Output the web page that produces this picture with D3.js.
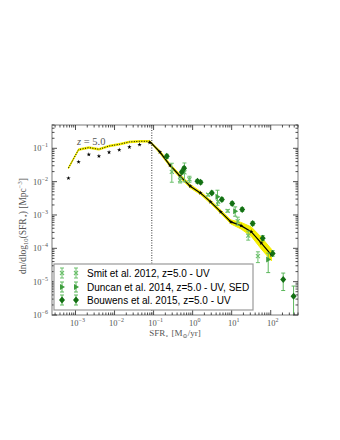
<!DOCTYPE html>
<html>
<head>
<meta charset="utf-8">
<script src="https://cdn.jsdelivr.net/npm/d3@7"></script>
<style>
  body { margin: 0; background: #fff; }
  svg { display: block; }
</style>
</head>
<body>
<div id="chart"></div>
<script>
// model curve (yellow band + black line) and stars
const modelSfr = [6.6e-4, 1.2e-3, 2.19e-3, 3.98e-3, 7.24e-3, 0.0132, 0.024, 0.0437, 0.0794,
  0.145, 0.263, 0.479, 0.871, 1.58, 2.88, 5.25, 9.55, 17.4, 31.6, 57.5, 105];
const modelPhi = [0.0257, 0.0914, 0.105, 0.0933, 0.117, 0.132, 0.155, 0.162, 0.162,
  0.0774, 0.031, 0.0145, 0.00728, 0.00459, 0.00247, 0.00124, 6.2e-4, 4.79e-4, 3.16e-4, 1.43e-4, 6.25e-5];
const bandLo = [0.0243, 0.0865, 0.0994, 0.0883, 0.1108, 0.125, 0.1468, 0.1534, 0.1534,
  0.0695, 0.0278, 0.0129, 0.0065, 0.0041, 0.0022, 0.0011, 5.4e-4, 3.8e-4, 2.3e-4, 9.5e-5, 4.2e-5];
const bandHi = [0.0271, 0.0966, 0.111, 0.0986, 0.1236, 0.1395, 0.1638, 0.1712, 0.1712,
  0.0862, 0.0346, 0.0163, 0.0082, 0.0051, 0.00277, 0.0014, 7.1e-4, 6.0e-4, 4.4e-4, 2.15e-4, 9.3e-5];
const starPhi = [0.01265, 0.0389, 0.0652, 0.0583, 0.0759, 0.0895, 0.109, 0.129, 0.148,
  0.0774, 0.031, 0.0145, 0.00728, 0.00459, 0.00247, 0.00124, 6.2e-4, 4.79e-4, 3.16e-4, 1.43e-4, 6.25e-5];
const sfrCut = 0.09;

// Smit et al. 2012
const smitSfr = [0.293, 0.478, 0.617, 0.828, 2.49, 4.51, 7.89, 14.3, 26.5, 47.0];
const smitPhi = [0.0195, 0.011, 0.0191, 0.0118, 0.00406, 0.0025, 0.00133, 6.52e-4, 2.4e-4, 5.83e-5];
const smitLo = [0.0096, 0.00914, 0.00982, 0.0096, 0.0037, 0.0023, 0.00122, 4.95e-4, 1.76e-4, 3.73e-5];
const smitHi = [0.0356, 0.0138, 0.0363, 0.0145, 0.0044, 0.0027, 0.00145, 8.59e-4, 3.27e-4, 7.85e-5];

// Duncan et al. 2014
const duncanSfr = [4.33, 12.3, 86.3];
const duncanPhi = [0.00353, 0.0013, 4.59e-5];
const duncanLo = [0.00196, 9.2e-4, 1.87e-5];
const duncanHi = [0.00553, 0.00175, 7.18e-5];

// Bouwens et al. 2015
const bouwensSfr = [0.218, 0.528, 0.605, 1.33, 1.6, 3.1, 5.61, 10.3, 18.6, 34.5, 62.4, 112, 209, 385];
const bouwensPhi = [0.0575, 0.0195, 0.0252, 0.01028, 0.0096, 0.00459, 0.00291, 0.00221, 0.00146,
  5.57e-4, 2.02e-4, 7.03e-5, 1.16e-5, 3.63e-6];
const bouwensLo = [0.05, 0.0172, 0.0222, 0.0091, 0.0085, 0.0041, 0.0026, 0.00195, 0.00128,
  4.8e-4, 1.7e-4, 5.8e-5, 5.42e-6, 5e-7];
const bouwensHi = [0.066, 0.0221, 0.0285, 0.0116, 0.0108, 0.0052, 0.0033, 0.0025, 0.00166,
  6.4e-4, 2.4e-4, 8.5e-5, 1.81e-5, 7.38e-6];

const legendLabels = ['Smit et al. 2012, z=5.0 - UV', 'Duncan et al. 2014, z=5.0 - UV, SED',
  'Bouwens et al. 2015, z=5.0 - UV'];

const W = 340, H = 440;
const L = 52, R = 298, T = 125, B = 315;
const serif = 'Liberation Serif, DejaVu Serif, serif';

const svg = d3.select('#chart').append('svg')
  .attr('width', W).attr('height', H);

const x = d3.scaleLog().domain([2.5e-4, 500]).range([L, R]);
const y = d3.scaleLog().domain([1e-6, 0.5]).range([B, T]);

svg.append('clipPath').attr('id', 'clip')
  .append('rect').attr('x', L).attr('y', T).attr('width', R - L).attr('height', B - T);

const plot = svg.append('g').attr('clip-path', 'url(#clip)');

const model = modelSfr.map((s, i) => ({ s, p: modelPhi[i], lo: bandLo[i], hi: bandHi[i], st: starPhi[i] }));

// yellow band
plot.append('path')
  .datum(model)
  .attr('fill', '#f5ee00')
  .attr('stroke', '#f5ee00')
  .attr('stroke-width', 1)
  .attr('d', d3.area().x(d => x(d.s)).y0(d => y(d.lo)).y1(d => y(d.hi)));

// dotted part of the line (left of cut) and solid part
const left = model.filter((d, i) => i <= 8);
const right = model.filter((d, i) => i >= 8);
const line = d3.line().x(d => x(d.s)).y(d => y(d.p));
plot.append('path').datum(left)
  .attr('fill', 'none').attr('stroke', '#000').attr('stroke-width', 1)
  .attr('stroke-dasharray', '1,1.5').attr('d', line);
plot.append('path').datum(right)
  .attr('fill', 'none').attr('stroke', '#000').attr('stroke-width', 1.2)
  .attr('d', line);

// stars
plot.selectAll('.star').data(model).enter().append('path')
  .attr('class', 'star')
  .attr('transform', d => `translate(${x(d.s)},${y(d.st)})`)
  .attr('d', d3.symbol().type(d3.symbolStar).size(6))
  .attr('fill', '#000');

// vertical dotted line
svg.append('line')
  .attr('x1', x(sfrCut)).attr('x2', x(sfrCut)).attr('y1', T).attr('y2', B)
  .attr('stroke', '#000').attr('stroke-width', 0.8).attr('stroke-dasharray', '1,1.5');

// error bars helper
function errorBars(sfr, lo, hi, color) {
  const g = plot.append('g').attr('stroke', color).attr('stroke-width', 1);
  sfr.forEach((s, i) => {
    const cx = x(s);
    g.append('line').attr('x1', cx).attr('x2', cx).attr('y1', y(lo[i])).attr('y2', y(hi[i]));
    g.append('line').attr('x1', cx - 2).attr('x2', cx + 2).attr('y1', y(lo[i])).attr('y2', y(lo[i]));
    g.append('line').attr('x1', cx - 2).attr('x2', cx + 2).attr('y1', y(hi[i])).attr('y2', y(hi[i]));
  });
}

const smitColor = '#6cc06c';
const duncanColor = '#3d9e3d';
const bouwensColor = '#136f13';
const barColor = '#5cb85c';

errorBars(smitSfr, smitLo, smitHi, smitColor);
errorBars(duncanSfr, duncanLo, duncanHi, barColor);
errorBars(bouwensSfr, bouwensLo, bouwensHi, barColor);

function drawX(g, cx, cy) {
  g.append('path').attr('d', `M${cx - 2},${cy - 2}L${cx + 2},${cy + 2}M${cx - 2},${cy + 2}L${cx + 2},${cy - 2}`)
    .attr('stroke', smitColor).attr('stroke-width', 1.1).attr('fill', 'none');
}
function drawTri(g, cx, cy) {
  g.append('path').attr('d', `M${cx + 3},${cy}L${cx - 2},${cy - 3}L${cx - 2},${cy + 3}Z`)
    .attr('fill', duncanColor);
}
function drawDiamond(g, cx, cy) {
  g.append('path').attr('d', `M${cx},${cy - 3.5}L${cx + 3},${cy}L${cx},${cy + 3.5}L${cx - 3},${cy}Z`)
    .attr('fill', bouwensColor);
}

smitSfr.forEach((s, i) => drawX(plot, x(s), y(smitPhi[i])));
duncanSfr.forEach((s, i) => drawTri(plot, x(s), y(duncanPhi[i])));
bouwensSfr.forEach((s, i) => drawDiamond(plot, x(s), y(bouwensPhi[i])));

// z label
const zt = svg.append('text').attr('x', 77).attr('y', 145)
  .attr('font-family', serif).attr('font-size', 10.5).attr('fill', '#555');
zt.append('tspan').attr('font-style', 'italic').text('z');
zt.append('tspan').text(' = 5.0');

// frame
svg.append('rect').attr('x', L).attr('y', T).attr('width', R - L).attr('height', B - T)
  .attr('fill', 'none').attr('stroke', '#999').attr('stroke-width', 1.3);

// ticks
const ticks = svg.append('g').attr('stroke', '#222').attr('stroke-width', 0.8);
const isMajor = v => Math.abs(Math.log10(v) - Math.round(Math.log10(v))) < 1e-6;
x.ticks().forEach(v => {
  const px = x(v);
  const len = isMajor(v) ? 5 : 2.5;
  ticks.append('line').attr('x1', px).attr('x2', px).attr('y1', B).attr('y2', B - len);
  ticks.append('line').attr('x1', px).attr('x2', px).attr('y1', T).attr('y2', T + len);
});
y.ticks().forEach(v => {
  const py = y(v);
  const len = isMajor(v) ? 5 : 2.5;
  ticks.append('line').attr('x1', L).attr('x2', L + len).attr('y1', py).attr('y2', py);
  ticks.append('line').attr('x1', R).attr('x2', R - len).attr('y1', py).attr('y2', py);
});

function powLabel(sel, exp) {
  sel.append('tspan').text('10');
  sel.append('tspan').attr('dy', -4).attr('font-size', 6).text(exp < 0 ? '\u2212' + (-exp) : String(exp));
}

x.ticks().filter(isMajor).forEach(v => {
  const t = svg.append('text').attr('x', x(v) + 2).attr('y', 326)
    .attr('text-anchor', 'middle').attr('font-family', serif)
    .attr('font-size', 8.5).attr('fill', '#555');
  powLabel(t, Math.round(Math.log10(v)));
});
y.ticks().filter(isMajor).forEach(v => {
  const t = svg.append('text').attr('x', 48).attr('y', y(v) + 3)
    .attr('text-anchor', 'end').attr('font-family', serif)
    .attr('font-size', 8.5).attr('fill', '#555');
  powLabel(t, Math.round(Math.log10(v)));
});

// axis labels
const xl = svg.append('text').attr('x', (L + R) / 2).attr('y', 336)
  .attr('text-anchor', 'middle').attr('font-family', serif)
  .attr('font-size', 9).attr('fill', '#555');
xl.append('tspan').text('SFR');
xl.append('tspan').attr('font-size', 6).attr('dy', 2).text('\u22c6');
xl.append('tspan').attr('dy', -2).text(' [M');
xl.append('tspan').attr('font-size', 6).attr('dy', 2).text('\u2299');
xl.append('tspan').attr('dy', -2).text('/yr]');

const yl = svg.append('text').attr('transform', 'translate(26,226) rotate(-90)')
  .attr('text-anchor', 'middle').attr('font-family', serif)
  .attr('font-size', 9.5).attr('fill', '#555');
yl.append('tspan').text('dn/dlog');
yl.append('tspan').attr('font-size', 6.5).attr('dy', 2).text('10');
yl.append('tspan').attr('dy', -2).text('(SFR');
yl.append('tspan').attr('font-size', 6.5).attr('dy', 2).text('\u22c6');
yl.append('tspan').attr('dy', -2).text(') [Mpc');
yl.append('tspan').attr('font-size', 6.5).attr('dy', -4).text('\u22123');
yl.append('tspan').attr('dy', 4).text(']');

// legend
const lg = svg.append('g');
lg.append('rect').attr('x', 54).attr('y', 264).attr('width', 199).attr('height', 46)
  .attr('fill', '#fff').attr('stroke', '#999').attr('stroke-width', 1.2);
const rowY = [273, 287, 300];
const drawers = [drawX, drawTri, drawDiamond];
const legBar = [smitColor, barColor, barColor];
rowY.forEach((ry, i) => {
  [62, 76].forEach(cx => {
    const g = lg.append('g').attr('stroke', legBar[i]).attr('stroke-width', 1);
    g.append('line').attr('x1', cx).attr('x2', cx).attr('y1', ry - 5).attr('y2', ry + 5);
    g.append('line').attr('x1', cx - 2).attr('x2', cx + 2).attr('y1', ry - 5).attr('y2', ry - 5);
    g.append('line').attr('x1', cx - 2).attr('x2', cx + 2).attr('y1', ry + 5).attr('y2', ry + 5);
    drawers[i](lg, cx, ry);
  });
  lg.append('text').attr('x', 87).attr('y', ry + 3.5)
    .attr('font-family', 'Liberation Sans, Arial, sans-serif').attr('font-size', 10)
    .attr('fill', '#000').text(legendLabels[i]);
});
</script>
</body>
</html>
